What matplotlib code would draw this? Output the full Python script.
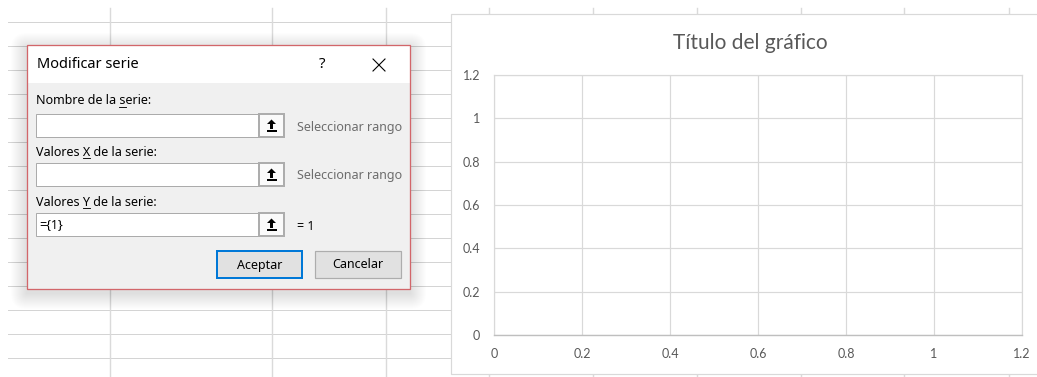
import matplotlib
matplotlib.use("Agg")
import matplotlib.pyplot as plt
from matplotlib.patches import Rectangle, Polygon, FancyBboxPatch
from matplotlib.font_manager import FontProperties
from matplotlib.ticker import FuncFormatter

W, H, DPI = 1037, 377, 100
PT = 72.0 / DPI  # puntos por píxel

# Cuadrícula de la hoja
col_x = [110, 272, 386, 489, 593, 697, 801, 904, 1009]
row_y = [22, 46, 70, 94, 118, 142, 166, 190, 214, 238, 262, 286, 310, 334, 358]

# Gráfico de dispersión (vacío)
titulo = "Título del gráfico"
x_ticks = [0, 0.2, 0.4, 0.6, 0.8, 1, 1.2]
y_ticks = [0, 0.2, 0.4, 0.6, 0.8, 1, 1.2]

# Cuadro de diálogo
dlg_titulo = "Modificar serie"
etiquetas = ["Nombre de la serie:", "Valores X de la serie:", "Valores Y de la serie:"]
subrayado = [13, 8, 8]          # índice de la tecla de acceso
valores = ["", "", "={1}"]
avisos = ["Seleccionar rango", "Seleccionar rango", "= 1"]
botones = ["Aceptar", "Cancelar"]

UI = ["Noto Sans", "DejaVu Sans"]
CHART = ["Lato", "DejaVu Sans"]

fig = plt.figure(figsize=(W / DPI, H / DPI), dpi=DPI)
bg = fig.add_axes([0, 0, 1, 1])
bg.set_xlim(0, W)
bg.set_ylim(H, 0)
bg.axis("off")

# --- hoja de cálculo ---
for y in row_y:
    bg.plot([8, W], [y, y], color="#D4D4D4", lw=PT, zorder=1)
for x in col_x:
    bg.plot([x, x], [8, H], color="#DADADA", lw=1.4 * PT, zorder=1)

# --- área del gráfico ---
bg.add_patch(Rectangle((451, 14), W - 451 + 5, 360, fc="white",
                       ec="#D9D9D9", lw=1.2 * PT, zorder=2))
bg.text(750, 43, titulo, ha="center", va="center", fontsize=15,
        family=CHART, color="#595959", zorder=3)

L, R, T, B = 494, 1022, 75, 335
ax = fig.add_axes([L / W, 1 - B / H, (R - L) / W, (B - T) / H])
ax.set_xlim(x_ticks[0], x_ticks[-1])
ax.set_ylim(y_ticks[0], y_ticks[-1])
ax.set_xticks(x_ticks)
ax.set_yticks(y_ticks)
fmt = FuncFormatter(lambda v, p: f"{v:g}")
ax.xaxis.set_major_formatter(fmt)
ax.yaxis.set_major_formatter(fmt)
ax.grid(True, color="#D9D9D9", lw=1.2 * PT)
ax.set_axisbelow(True)
for s in ["top", "right", "left"]:
    ax.spines[s].set_color("#D9D9D9")
    ax.spines[s].set_linewidth(1.2 * PT)
ax.spines["bottom"].set_color("#BFBFBF")
ax.spines["bottom"].set_linewidth(1.4 * PT)
ax.tick_params(length=0, labelsize=9, colors="#595959")
ax.tick_params(axis="y", pad=10)
ax.tick_params(axis="x", pad=9)
for lab in ax.get_xticklabels() + ax.get_yticklabels():
    lab.set_family(CHART)

# --- sombra del diálogo ---
DX0, DY0, DX1, DY1 = 27, 45, 410, 289
for i in range(1, 17):
    bg.add_patch(FancyBboxPatch((DX0 - i, DY0 - i + 4), (DX1 - DX0) + 2 * i,
                                (DY1 - DY0) + 2 * i,
                                boxstyle=f"round,pad=0,rounding_size={i}",
                                fc="black", ec="none", alpha=0.009, zorder=4))

# --- diálogo ---
bg.add_patch(Rectangle((DX0, DY0), DX1 - DX0, DY1 - DY0, fc="#F0F0F0",
                       ec="none", zorder=5))
bg.add_patch(Rectangle((DX0, DY0), DX1 - DX0, 83 - DY0, fc="white",
                       ec="none", zorder=5))
bg.add_patch(Rectangle((DX0, DY0), DX1 - DX0, DY1 - DY0, fc="none",
                       ec="#D2666A", lw=1.3 * PT, zorder=6))
bg.text(37, 64, dlg_titulo, ha="left", va="center", fontsize=10.5,
        family=UI, color="#000000", zorder=7)
bg.text(322, 64, "?", ha="center", va="center", fontsize=11,
        family=UI, color="#000000", zorder=7)
bg.plot([373, 385], [59, 71], color="#000000", lw=1.1 * PT, zorder=7)
bg.plot([373, 385], [71, 59], color="#000000", lw=1.1 * PT, zorder=7)

fig.canvas.draw()
rnd = fig.canvas.get_renderer()
ui_prop = FontProperties(family=UI, size=9)


def ancho(s):
    w, _, _ = rnd.get_text_width_height_descent(s, ui_prop, ismath=False)
    return w


def icono(cx, cy):
    bg.add_patch(Polygon([(cx - 4.5, cy - 1.5), (cx, cy - 6), (cx + 4.5, cy - 1.5)],
                         closed=True, fc="black", ec="none", zorder=8))
    bg.add_patch(Rectangle((cx - 1.5, cy - 2), 3, 5.5, fc="black", ec="none", zorder=8))
    bg.add_patch(Rectangle((cx - 5, cy + 4.5), 10, 1.8, fc="black", ec="none", zorder=8))


lab_y = [101, 152, 202]
box_y = [114, 163, 213]
for i, (et, k, val, av) in enumerate(zip(etiquetas, subrayado, valores, avisos)):
    bg.text(36, lab_y[i], et, ha="left", va="center", fontsize=9,
            family=UI, color="#000000", zorder=7)
    x1 = 36 + ancho(et[:k + 1])
    x0 = x1 - ancho(et[k])
    bg.plot([x0, x1], [lab_y[i] + 6, lab_y[i] + 6], color="#000000",
            lw=0.9 * PT, zorder=7)
    by = box_y[i]
    bg.add_patch(Rectangle((36, by), 259 - 36, 23, fc="white", ec="#ABABAB",
                           lw=1.0 * PT, zorder=6))
    bg.add_patch(Rectangle((259, by), 25, 23, fc="#FAFAFA", ec="#ADADAD",
                           lw=2.0 * PT, zorder=6))
    icono(271.5, by + 11.5)
    if val:
        bg.text(39, by + 12, val, ha="left", va="center", fontsize=9,
                family=UI, color="#000000", zorder=7)
    gris = "#6D6D6D" if av.startswith("Sel") else "#000000"
    bg.text(297, by + 13, av, ha="left", va="center", fontsize=9,
            family=UI, color=gris, zorder=7)

# botones
bx = [(217, 302, "#0078D7", 2.0), (315, 401, "#ADADAD", 1.2)]
for (x0, x1, ec, lw), txt in zip(bx, botones):
    bg.add_patch(Rectangle((x0, 251), x1 - x0, 27, fc="#E1E1E1", ec=ec,
                           lw=lw * PT, zorder=6))
    bg.text((x0 + x1) / 2, 265, txt, ha="center", va="center", fontsize=9,
            family=UI, color="#000000", zorder=7)

fig.savefig("out.png", dpi=DPI)
